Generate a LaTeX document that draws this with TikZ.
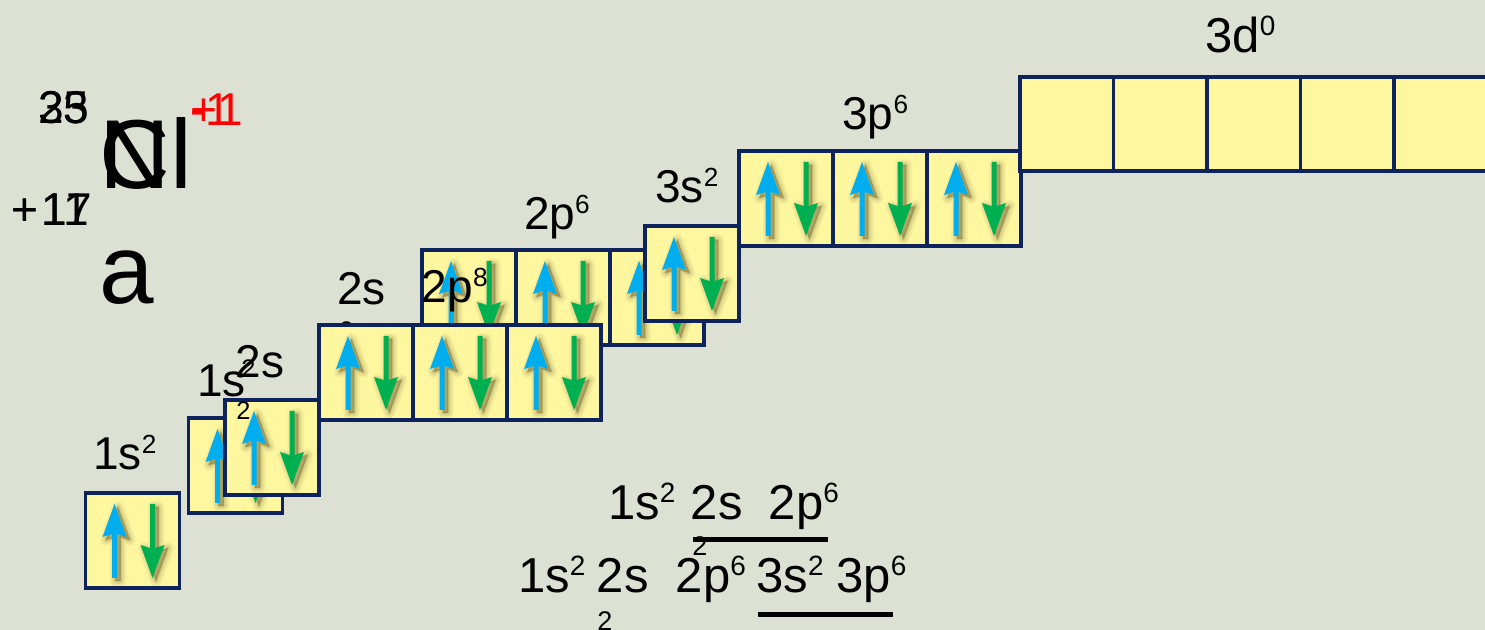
\documentclass[tikz,border=0pt]{standalone}
\usepackage{fontspec}
\setmainfont{Liberation Sans}
\usepackage{graphicx}
\definecolor{bg}{RGB}{220,225,211}
\definecolor{cellyel}{RGB}{255,246,160}
\definecolor{navy}{RGB}{13,35,94}
\definecolor{upc}{RGB}{0,174,239}
\definecolor{dnc}{RGB}{0,176,80}
\definecolor{shd}{RGB}{70,62,20}
% raised, reduced exponent
\newcommand\hi[1]{\raisebox{0.36em}{\scalebox{0.57}{#1}}}
\tikzset{
  orb/.style={draw=navy, fill=cellyel, line width=1.75pt, minimum width=47pt,
    minimum height=47.5pt, inner sep=0pt, outer sep=0pt},
  lab/.style={anchor=base west, inner sep=0pt, font=\fontsize{23pt}{27pt}\selectfont},
  frm/.style={anchor=base west, inner sep=0pt, font=\fontsize{24.5pt}{29pt}\selectfont},
  sm/.style={anchor=base west, inner sep=0pt, font=\fontsize{12.7pt}{15pt}\selectfont},
  smf/.style={anchor=base west, inner sep=0pt, font=\fontsize{13.5pt}{16pt}\selectfont},
  sym/.style={anchor=base west, inner sep=0pt, font=\fontsize{23pt}{27pt}\selectfont},
  big/.style={anchor=base west, inner sep=0pt, font=\fontsize{49pt}{58pt}\selectfont},
  uline/.style={line width=2.5pt, black},
  % an up/down electron pair inside one orbital cell
  pair/.pic={
    \begin{scope}[shift={(3.5,3)}]
      \foreach \w/\o in {12/0.04,9/0.05,6/0.07,3/0.09,1/0.12}{
        \filldraw[shd, opacity=\o, line width=\w*0.5pt, line join=round]
          (-18,-36.5) -- (-6,-3.5) -- (-15.5,-6.5) -- (-15.5,37.5) -- (-20.5,37.5)
          -- (-20.5,-6.5) -- (-30,-3.5) -- cycle;
        \filldraw[shd, opacity=\o, line width=\w*0.5pt, line join=round]
          (17.5,-36.5) -- (22.5,-36.5) -- (22.5,7.5) -- (32,4.5) -- (20,37.5)
          -- (8,4.5) -- (17.5,7.5) -- cycle;
      }
    \end{scope}
    \fill[upc] (-18,-36.5) -- (-6,-3.5) -- (-15.5,-6.5) -- (-15.5,37.5) -- (-20.5,37.5)
          -- (-20.5,-6.5) -- (-30,-3.5) -- cycle;
    \fill[dnc] (17.5,-36.5) -- (22.5,-36.5) -- (22.5,7.5) -- (32,4.5) -- (20,37.5)
          -- (8,4.5) -- (17.5,7.5) -- cycle;
  }
}
\begin{document}
\begin{tikzpicture}[x=0.5pt,y=-0.5pt]
\useasboundingbox (0,0) rectangle (1485,630);
\fill[bg] (0,0) rectangle (1485,630);

% element symbols with mass, atomic number and charge
\node[sym] (mNa) at (38,124) {23};
\node[sym] (mCl) at (38,124) {35};
\node[big] (eN) at (99,189) {N};
\node[big] (eCl) at (99,189) {Cl};
\node[big] (ea) at (99,304) {a};
\node[sym] (zNa) at (11,226) {+\kern1.5pt11};
\node[sym] (zCl) at (11,226) {+\kern1.5pt17};
\node[sym, text=red] (qNa) at (190,126) {+1};
\node[sym, text=red] (qCl) at (190,126) {-1};

% 1s
\node[orb] (s1a) at (132.5,540.5) {};
\pic at (s1a.center) {pair};
\node[lab] (l1sa) at (93,470) {1s\hi{2}};

\node[orb] (s1b) at (235.5,465.5) {};
\pic at (s1b.center) {pair};
\node[lab] (l1sb) at (197,397) {1s};
\node[sm] (l1sbx) at (241,378) {2};
\node[lab] (l2sb) at (235.5,378) {2s};

% 2s
\node[orb] (s2c) at (272,447.5) {};
\pic at (s2c.center) {pair};
\node[sm] (l2sbx) at (236,420) {2};

% 2p, upper row
\node[orb] (p2u1) at (469,297.5) {};
\node[orb] (p2u2) at (563,297.5) {};
\node[orb] (p2u3) at (657,297.5) {};
\pic at (p2u1.center) {pair};
\pic at (p2u2.center) {pair};
\pic at (p2u3.center) {pair};
\node[lab] (l2p8) at (421.5,303) {2p\hi{8}};
\node[lab] (l2p6) at (523.6,230) {2p\hi{6}};

% 2s and 2p, lower row
\node[lab] (l2sa) at (336.6,305) {2s};
\node[sm] (l2sax) at (339,340) {2};
\node[orb] (p2l1) at (366,372.5) {};
\node[orb] (p2l2) at (460,372.5) {};
\node[orb] (p2l3) at (554,372.5) {};
\pic at (p2l1.center) {pair};
\pic at (p2l2.center) {pair};
\pic at (p2l3.center) {pair};

% 3s
\node[orb] (s3) at (692,273.5) {};
\pic at (s3.center) {pair};
\node[lab] (l3s) at (655,203) {3s\hi{2}};

% 3p
\node[orb] (p3a) at (786,198.5) {};
\node[orb] (p3b) at (880,198.5) {};
\node[orb] (p3c) at (974,198.5) {};
\pic at (p3a.center) {pair};
\pic at (p3b.center) {pair};
\pic at (p3c.center) {pair};
\node[lab] (l3p) at (842,130) {3p\hi{6}};

% 3d, empty
\node[orb, minimum width=46.75pt, minimum height=47pt] (d3a) at (1066.75,124) {};
\node[orb, minimum width=46.75pt, minimum height=47pt] (d3b) at (1160.25,124) {};
\node[orb, minimum width=46.75pt, minimum height=47pt] (d3c) at (1253.75,124) {};
\node[orb, minimum width=46.75pt, minimum height=47pt] (d3d) at (1347.25,124) {};
\node[orb, minimum width=46.75pt, minimum height=47pt] (d3e) at (1440.75,124) {};
\node[frm] (l3d) at (1205,53) {3d\hi{0}};

% configurations
\node[frm] (f1a) at (607.7,520) {1s\hi{2}};
\node[frm] (f1b) at (690.5,520) {2s};
\node[frm] (f1c) at (768.5,520) {2p\hi{6}};
\node[smf] (f1x) at (692,556) {2};
\coordinate (u1a) at (693,540);
\coordinate (u1b) at (828,540);
\draw[uline] (u1a) -- (u1b);

\node[frm] (f2a) at (517.7,593) {1s\hi{2}};
\node[frm] (f2b) at (596.5,593) {2s};
\node[frm] (f2c) at (675.5,593) {2p\hi{6}};
\node[frm] (f2d) at (756,593) {3s\hi{2}};
\node[frm] (f2e) at (836,593) {3p\hi{6}};
\node[smf] (f2x) at (597,631) {2};
\coordinate (u2a) at (758,614.5);
\coordinate (u2b) at (893,614.5);
\draw[uline] (u2a) -- (u2b);
\end{tikzpicture}
\end{document}
